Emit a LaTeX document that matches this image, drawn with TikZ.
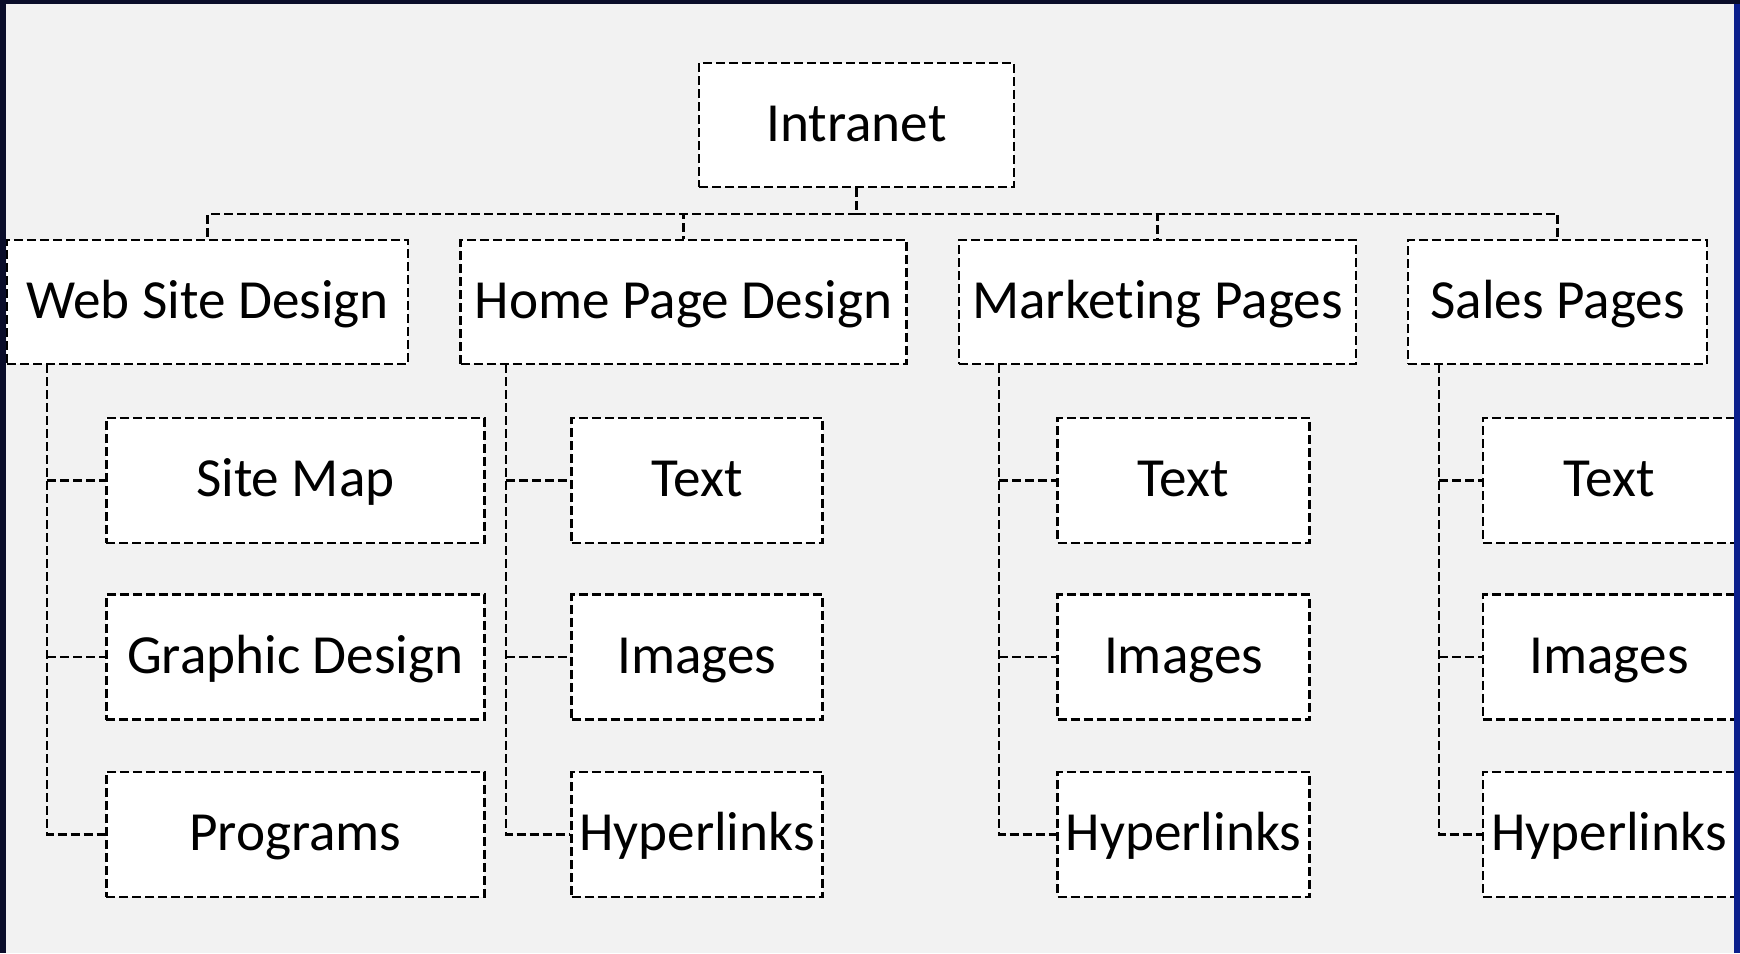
\documentclass[tikz,border=0pt]{standalone}
\usepackage{fontspec}
\setmainfont{Carlito}[Ligatures=NoCommon]
\definecolor{panel}{HTML}{F2F2F2}
\definecolor{frame}{HTML}{0A0D2A}
\definecolor{edgeblue}{HTML}{0B1F8C}

\begin{document}
\begin{tikzpicture}[x=0.5pt,y=-0.5pt]
\tikzstyle{every node}+=[inner sep=0pt]
\tikzstyle{box}=[draw=black,fill=white,line width=1.3pt,dash pattern=on 4.5pt off 2pt,text height=22pt,text depth=5.5pt,font=\fontsize{27.6}{33}\selectfont]
\tikzstyle{link}=[draw=black,line width=1.3pt,dash pattern=on 4.5pt off 2pt]
\useasboundingbox (0,0) rectangle (1740,953);
\fill [frame] (0,0) rectangle (1740,953);
\fill [panel] (6,4) rectangle (1734,953);
\begin{scope}
\clip (6,4) rectangle (1734,953);
\node [box,minimum width=157.5pt,minimum height=62pt] (intranet) at (856.5,125) {Intranet};
\node [box,minimum width=200.5pt,minimum height=62pt] (web) at (207.5,302) {Web Site Design};
\node [box,minimum width=223pt,minimum height=62pt] (home) at (683.5,302) {Home Page Design};
\node [box,minimum width=198.5pt,minimum height=62pt] (mkt) at (1157.5,302) {Marketing Pages};
\node [box,minimum width=149.5pt,minimum height=62pt] (sales) at (1557.5,302) {Sales Pages};
\node [box,minimum width=189pt,minimum height=62.5pt] (webmap) at (295.3,480.3) {Site Map};
\node [box,minimum width=189pt,minimum height=62.5pt] (webgfx) at (295.3,657) {Graphic Design};
\node [box,minimum width=189pt,minimum height=62.5pt] (webprog) at (295.3,834.3) {Programs};
\node [box,minimum width=125.5pt,minimum height=62.5pt] (hometext) at (697,480.3) {Text};
\node [box,minimum width=125.5pt,minimum height=62.5pt] (homeimg) at (697,657) {Images};
\node [box,minimum width=125.5pt,minimum height=62.5pt] (homelink) at (697,834.3) {Hyperlinks};
\node [box,minimum width=126pt,minimum height=62.5pt] (mkttext) at (1183.5,480.3) {Text};
\node [box,minimum width=126pt,minimum height=62.5pt] (mktimg) at (1183.5,657) {Images};
\node [box,minimum width=126pt,minimum height=62.5pt] (mktlink) at (1183.5,834.3) {Hyperlinks};
\node [box,minimum width=126pt,minimum height=62.5pt] (salestext) at (1609,480.3) {Text};
\node [box,minimum width=126pt,minimum height=62.5pt] (salesimg) at (1609,657) {Images};
\node [box,minimum width=126pt,minimum height=62.5pt] (saleslink) at (1609,834.3) {Hyperlinks};
\coordinate (bus) at (856.5,214);
\coordinate (webspine) at (47,364);
\coordinate (homespine) at (506,364);
\coordinate (mktspine) at (999,364);
\coordinate (salesspine) at (1439,364);
\draw [link] (intranet.south) -- (bus);
\draw [link] (bus) -| (web.north);
\draw [link] (bus) -| (home.north);
\draw [link] (bus) -| (mkt.north);
\draw [link] (bus) -| (sales.north);
\draw [link] (webspine) |- (webprog.west);
\draw [link] (webspine |- webmap.west) -- (webmap.west);
\draw [link] (webspine |- webgfx.west) -- (webgfx.west);
\draw [link] (homespine) |- (homelink.west);
\draw [link] (homespine |- hometext.west) -- (hometext.west);
\draw [link] (homespine |- homeimg.west) -- (homeimg.west);
\draw [link] (mktspine) |- (mktlink.west);
\draw [link] (mktspine |- mkttext.west) -- (mkttext.west);
\draw [link] (mktspine |- mktimg.west) -- (mktimg.west);
\draw [link] (salesspine) |- (saleslink.west);
\draw [link] (salesspine |- salestext.west) -- (salestext.west);
\draw [link] (salesspine |- salesimg.west) -- (salesimg.west);
\end{scope}
\fill [edgeblue] (1734,4) rectangle (1740,953);
\end{tikzpicture}
\end{document}
